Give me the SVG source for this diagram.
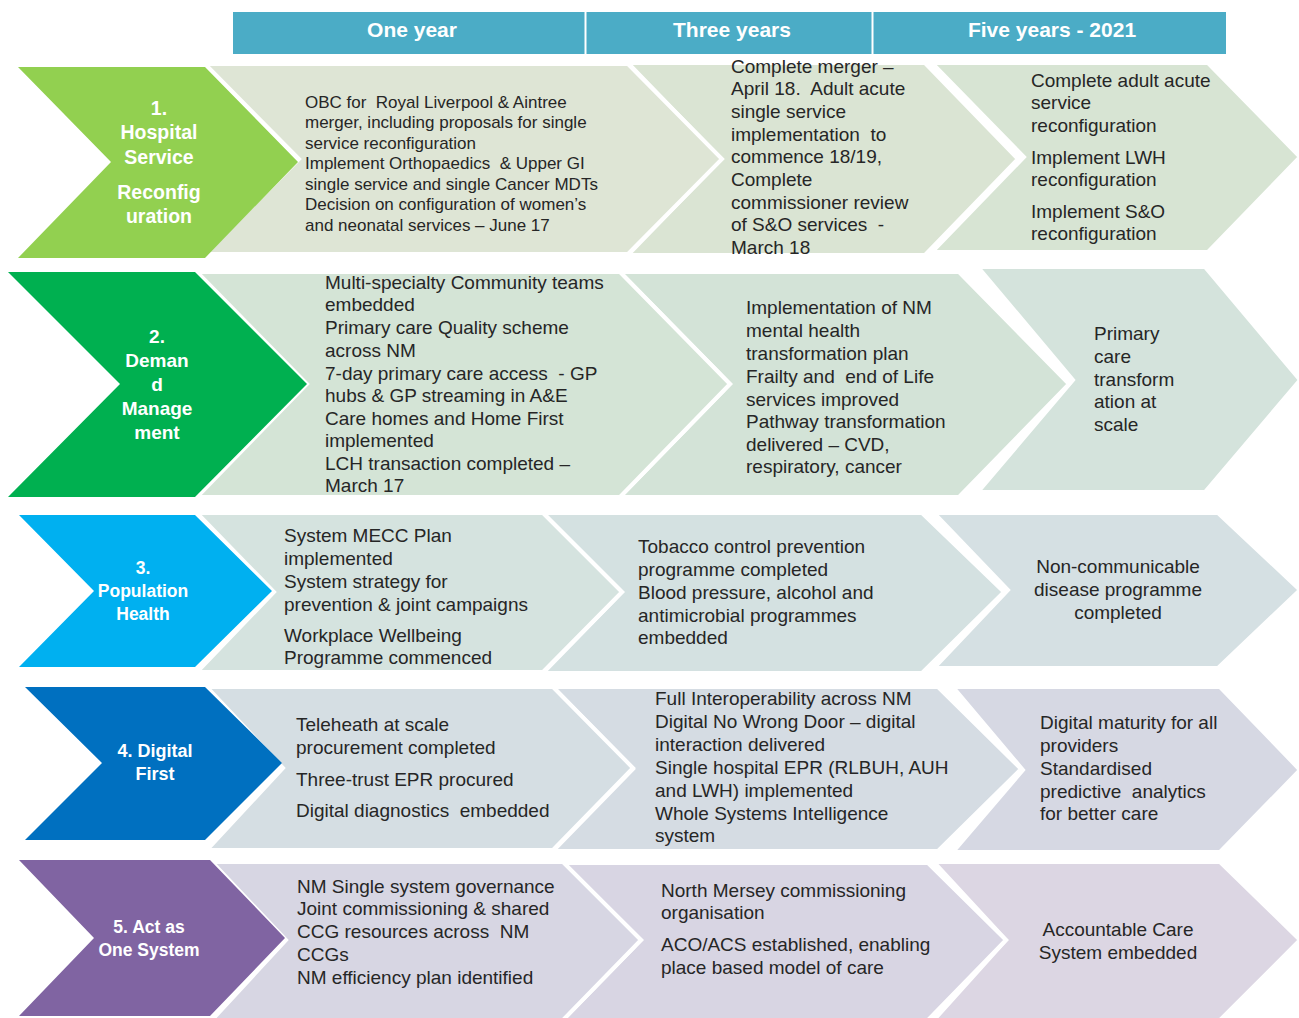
<svg xmlns="http://www.w3.org/2000/svg" width="1299" height="1018" viewBox="0 0 1299 1018">
<style>
.bg{fill:#ffffff}
.hd{fill:#4BACC6}
.hdt{font-family:"Liberation Sans",Arial,sans-serif;font-weight:bold;font-size:21px;fill:#ffffff;text-anchor:middle}
.lab{font-family:"Liberation Sans",Arial,sans-serif;font-weight:bold;fill:#ffffff;text-anchor:middle}
.t{font-family:"Liberation Sans",Arial,sans-serif;font-size:19px;fill:#262626;white-space:pre}
.t17{font-size:17px}
.mid{text-anchor:middle}
.ch{stroke:#ffffff;stroke-width:4;stroke-linejoin:miter}
</style>
<rect class="bg" x="0" y="0" width="1299" height="1018"/>

<g id="header">
  <rect class="hd" x="233" y="12" width="993" height="42"/>
  <line x1="585.5" y1="12" x2="585.5" y2="54" stroke="#ffffff" stroke-width="2"/>
  <line x1="872.5" y1="12" x2="872.5" y2="54" stroke="#ffffff" stroke-width="2"/>
  <text class="hdt" x="412" y="37">One year</text>
  <text class="hdt" x="732" y="37">Three years</text>
  <text class="hdt" x="1052" y="37">Five years - 2021</text>
</g>

<g id="connectors"></g>

<!-- Row 1 -->
<g id="row1-five">
  <polygon class="ch" fill="#D7E4D3" points="932,63 1208,63 1300,157 1208,252 932,252 1024,157"/>
  <text class="t" xml:space="preserve"><tspan x="1031" y="87">Complete adult acute</tspan><tspan x="1031" y="109">service</tspan><tspan x="1031" y="132">reconfiguration</tspan><tspan x="1031" y="164">Implement LWH</tspan><tspan x="1031" y="186">reconfiguration</tspan><tspan x="1031" y="218">Implement S&amp;O</tspan><tspan x="1031" y="240">reconfiguration</tspan></text>
</g>
<g id="row1-three">
  <polygon class="ch" fill="#DAE4D3" points="628,63 925,63 1018,159 925,255 628,255 721,159"/>
  <text class="t" xml:space="preserve"><tspan x="731" y="73">Complete merger –</tspan><tspan x="731" y="95">April 18.  Adult acute</tspan><tspan x="731" y="118">single service</tspan><tspan x="731" y="141">implementation  to</tspan><tspan x="731" y="163">commence 18/19,</tspan><tspan x="731" y="186">Complete</tspan><tspan x="731" y="209">commissioner review</tspan><tspan x="731" y="231">of S&amp;O services  -</tspan><tspan x="731" y="254">March 18</tspan></text>
</g>
<g id="row1-one">
  <polygon class="ch" fill="#DEE5D5" points="205,64 628,64 722,159 628,254 205,254 299,159"/>
  <text class="t t17" xml:space="preserve"><tspan x="305" y="108">OBC for  Royal Liverpool &amp; Aintree</tspan><tspan x="305" y="128">merger, including proposals for single</tspan><tspan x="305" y="149">service reconfiguration</tspan><tspan x="305" y="169">Implement Orthopaedics  &amp; Upper GI</tspan><tspan x="305" y="190">single service and single Cancer MDTs</tspan><tspan x="305" y="210">Decision on configuration of women’s</tspan><tspan x="305" y="231">and neonatal services – June 17</tspan></text>
</g>
<g id="row1-label">
  <polygon fill="#92D050" points="18,67 205,67 298,162 205,258 18,258 111,162"/>
  <text class="lab" font-size="19.5"><tspan x="159" y="115">1.</tspan><tspan x="159" y="139">Hospital</tspan><tspan x="159" y="164">Service</tspan><tspan x="159" y="199">Reconfig</tspan><tspan x="159" y="223">uration</tspan></text>
</g>

<!-- Row 2 -->
<g id="row2-five">
  <polygon class="ch" fill="#D4E3DC" points="978,267 1205,267 1300,380 1205,492 978,492 1073,380"/>
  <text class="t" xml:space="preserve"><tspan x="1094" y="340">Primary</tspan><tspan x="1094" y="363">care</tspan><tspan x="1094" y="386">transform</tspan><tspan x="1094" y="408">ation at</tspan><tspan x="1094" y="431">scale</tspan></text>
</g>
<g id="row2-three">
  <polygon class="ch" fill="#D3E3D7" points="620,272 959,272 1069,384 959,497 620,497 730,384"/>
  <text class="t" xml:space="preserve"><tspan x="746" y="314">Implementation of NM</tspan><tspan x="746" y="337">mental health</tspan><tspan x="746" y="360">transformation plan</tspan><tspan x="746" y="383">Frailty and  end of Life</tspan><tspan x="746" y="406">services improved</tspan><tspan x="746" y="428">Pathway transformation</tspan><tspan x="746" y="451">delivered – CVD,</tspan><tspan x="746" y="473">respiratory, cancer</tspan></text>
</g>
<g id="row2-one">
  <polygon class="ch" fill="#D4E4D6" points="197,272 620,272 730,384 620,497 197,497 307,384"/>
  <text class="t" xml:space="preserve"><tspan x="325" y="289">Multi-specialty Community teams</tspan><tspan x="325" y="311">embedded</tspan><tspan x="325" y="334">Primary care Quality scheme</tspan><tspan x="325" y="357">across NM</tspan><tspan x="325" y="380">7-day primary care access  - GP</tspan><tspan x="325" y="402">hubs &amp; GP streaming in A&amp;E</tspan><tspan x="325" y="425">Care homes and Home First</tspan><tspan x="325" y="447">implemented</tspan><tspan x="325" y="470">LCH transaction completed –</tspan><tspan x="325" y="492">March 17</tspan></text>
</g>
<g id="row2-label">
  <polygon fill="#00B050" points="8,272 195,272 307,384 195,497 8,497 120,384"/>
  <text class="lab" font-size="19"><tspan x="157" y="343">2.</tspan><tspan x="157" y="367">Deman</tspan><tspan x="157" y="391">d</tspan><tspan x="157" y="415">Manage</tspan><tspan x="157" y="439">ment</tspan></text>
</g>

<!-- Row 3 -->
<g id="row3-five">
  <polygon class="ch" fill="#D5E0E3" points="934,513 1218,513 1300,590 1218,668 934,668 1008,590"/>
  <text class="t mid" xml:space="preserve"><tspan x="1118" y="573">Non-communicable</tspan><tspan x="1118" y="596">disease programme</tspan><tspan x="1118" y="619">completed</tspan></text>
</g>
<g id="row3-three">
  <polygon class="ch" fill="#D4E1E1" points="543,513 922,513 1004,592 922,673 543,673 622,592"/>
  <text class="t" xml:space="preserve"><tspan x="638" y="553">Tobacco control prevention</tspan><tspan x="638" y="576">programme completed</tspan><tspan x="638" y="599">Blood pressure, alcohol and</tspan><tspan x="638" y="622">antimicrobial programmes</tspan><tspan x="638" y="644">embedded</tspan></text>
</g>
<g id="row3-one">
  <polygon class="ch" fill="#D5E3DF" points="197,513 543,513 622,592 543,672 197,672 274,592"/>
  <text class="t" xml:space="preserve"><tspan x="284" y="542">System MECC Plan</tspan><tspan x="284" y="565">implemented</tspan><tspan x="284" y="588">System strategy for</tspan><tspan x="284" y="611">prevention &amp; joint campaigns</tspan><tspan x="284" y="642">Workplace Wellbeing</tspan><tspan x="284" y="664">Programme commenced</tspan></text>
</g>
<g id="row3-label">
  <polygon fill="#00B0F0" points="19,515 195,515 272,591 195,667 19,667 94,591"/>
  <text class="lab" font-size="17.5"><tspan x="143" y="574">3.</tspan><tspan x="143" y="597">Population</tspan><tspan x="143" y="620">Health</tspan></text>
</g>

<!-- Row 4 -->
<g id="row4-five">
  <polygon class="ch" fill="#D6D8E3" points="953,687 1220,687 1300,770 1220,852 953,852 1023,770"/>
  <text class="t" xml:space="preserve"><tspan x="1040" y="729">Digital maturity for all</tspan><tspan x="1040" y="752">providers</tspan><tspan x="1040" y="775">Standardised</tspan><tspan x="1040" y="798">predictive  analytics</tspan><tspan x="1040" y="820">for better care</tspan></text>
</g>
<g id="row4-three">
  <polygon class="ch" fill="#D5DCE3" points="553,687 938,687 1021,769 938,851 553,851 633,769"/>
  <text class="t" xml:space="preserve"><tspan x="655" y="705">Full Interoperability across NM</tspan><tspan x="655" y="728">Digital No Wrong Door – digital</tspan><tspan x="655" y="751">interaction delivered</tspan><tspan x="655" y="774">Single hospital EPR (RLBUH, AUH</tspan><tspan x="655" y="797">and LWH) implemented</tspan><tspan x="655" y="820">Whole Systems Intelligence</tspan><tspan x="655" y="842">system</tspan></text>
</g>
<g id="row4-one">
  <polygon class="ch" fill="#D5DEE3" points="207,687 553,687 633,768 553,850 207,850 283,768"/>
  <text class="t" xml:space="preserve"><tspan x="296" y="731">Teleheath at scale</tspan><tspan x="296" y="754">procurement completed</tspan><tspan x="296" y="786">Three-trust EPR procured</tspan><tspan x="296" y="817">Digital diagnostics  embedded</tspan></text>
</g>
<g id="row4-label">
  <polygon fill="#0070C0" points="25,687 205,687 282,763 205,840 25,840 102,763"/>
  <text class="lab" font-size="18"><tspan x="155" y="757">4. Digital</tspan><tspan x="155" y="780">First</tspan></text>
</g>

<!-- Row 5 -->
<g id="row5-five">
  <polygon class="ch" fill="#DCD6E3" points="934,862 1220,862 1300,940 1220,1020 934,1020 1006,940"/>
  <text class="t mid" xml:space="preserve"><tspan x="1118" y="936">Accountable Care</tspan><tspan x="1118" y="959">System embedded</tspan></text>
</g>
<g id="row5-three">
  <polygon class="ch" fill="#D8D5E3" points="563,863 928,863 1006,940 928,1020 563,1020 641,940"/>
  <text class="t" xml:space="preserve"><tspan x="661" y="897">North Mersey commissioning</tspan><tspan x="661" y="919">organisation</tspan><tspan x="661" y="951">ACO/ACS established, enabling</tspan><tspan x="661" y="974">place based model of care</tspan></text>
</g>
<g id="row5-one">
  <polygon class="ch" fill="#D7D6E3" points="212,862 563,862 641,940 563,1020 212,1020 286,940"/>
  <text class="t" xml:space="preserve"><tspan x="297" y="893">NM Single system governance</tspan><tspan x="297" y="915">Joint commissioning &amp; shared</tspan><tspan x="297" y="938">CCG resources across  NM</tspan><tspan x="297" y="961">CCGs</tspan><tspan x="297" y="984">NM efficiency plan identified</tspan></text>
</g>
<g id="row5-label">
  <polygon fill="#8064A2" points="19,860 210,860 285,938 210,1016 19,1016 94,938"/>
  <text class="lab" font-size="17.5"><tspan x="149" y="933">5. Act as</tspan><tspan x="149" y="956">One System</tspan></text>
</g>
</svg>
